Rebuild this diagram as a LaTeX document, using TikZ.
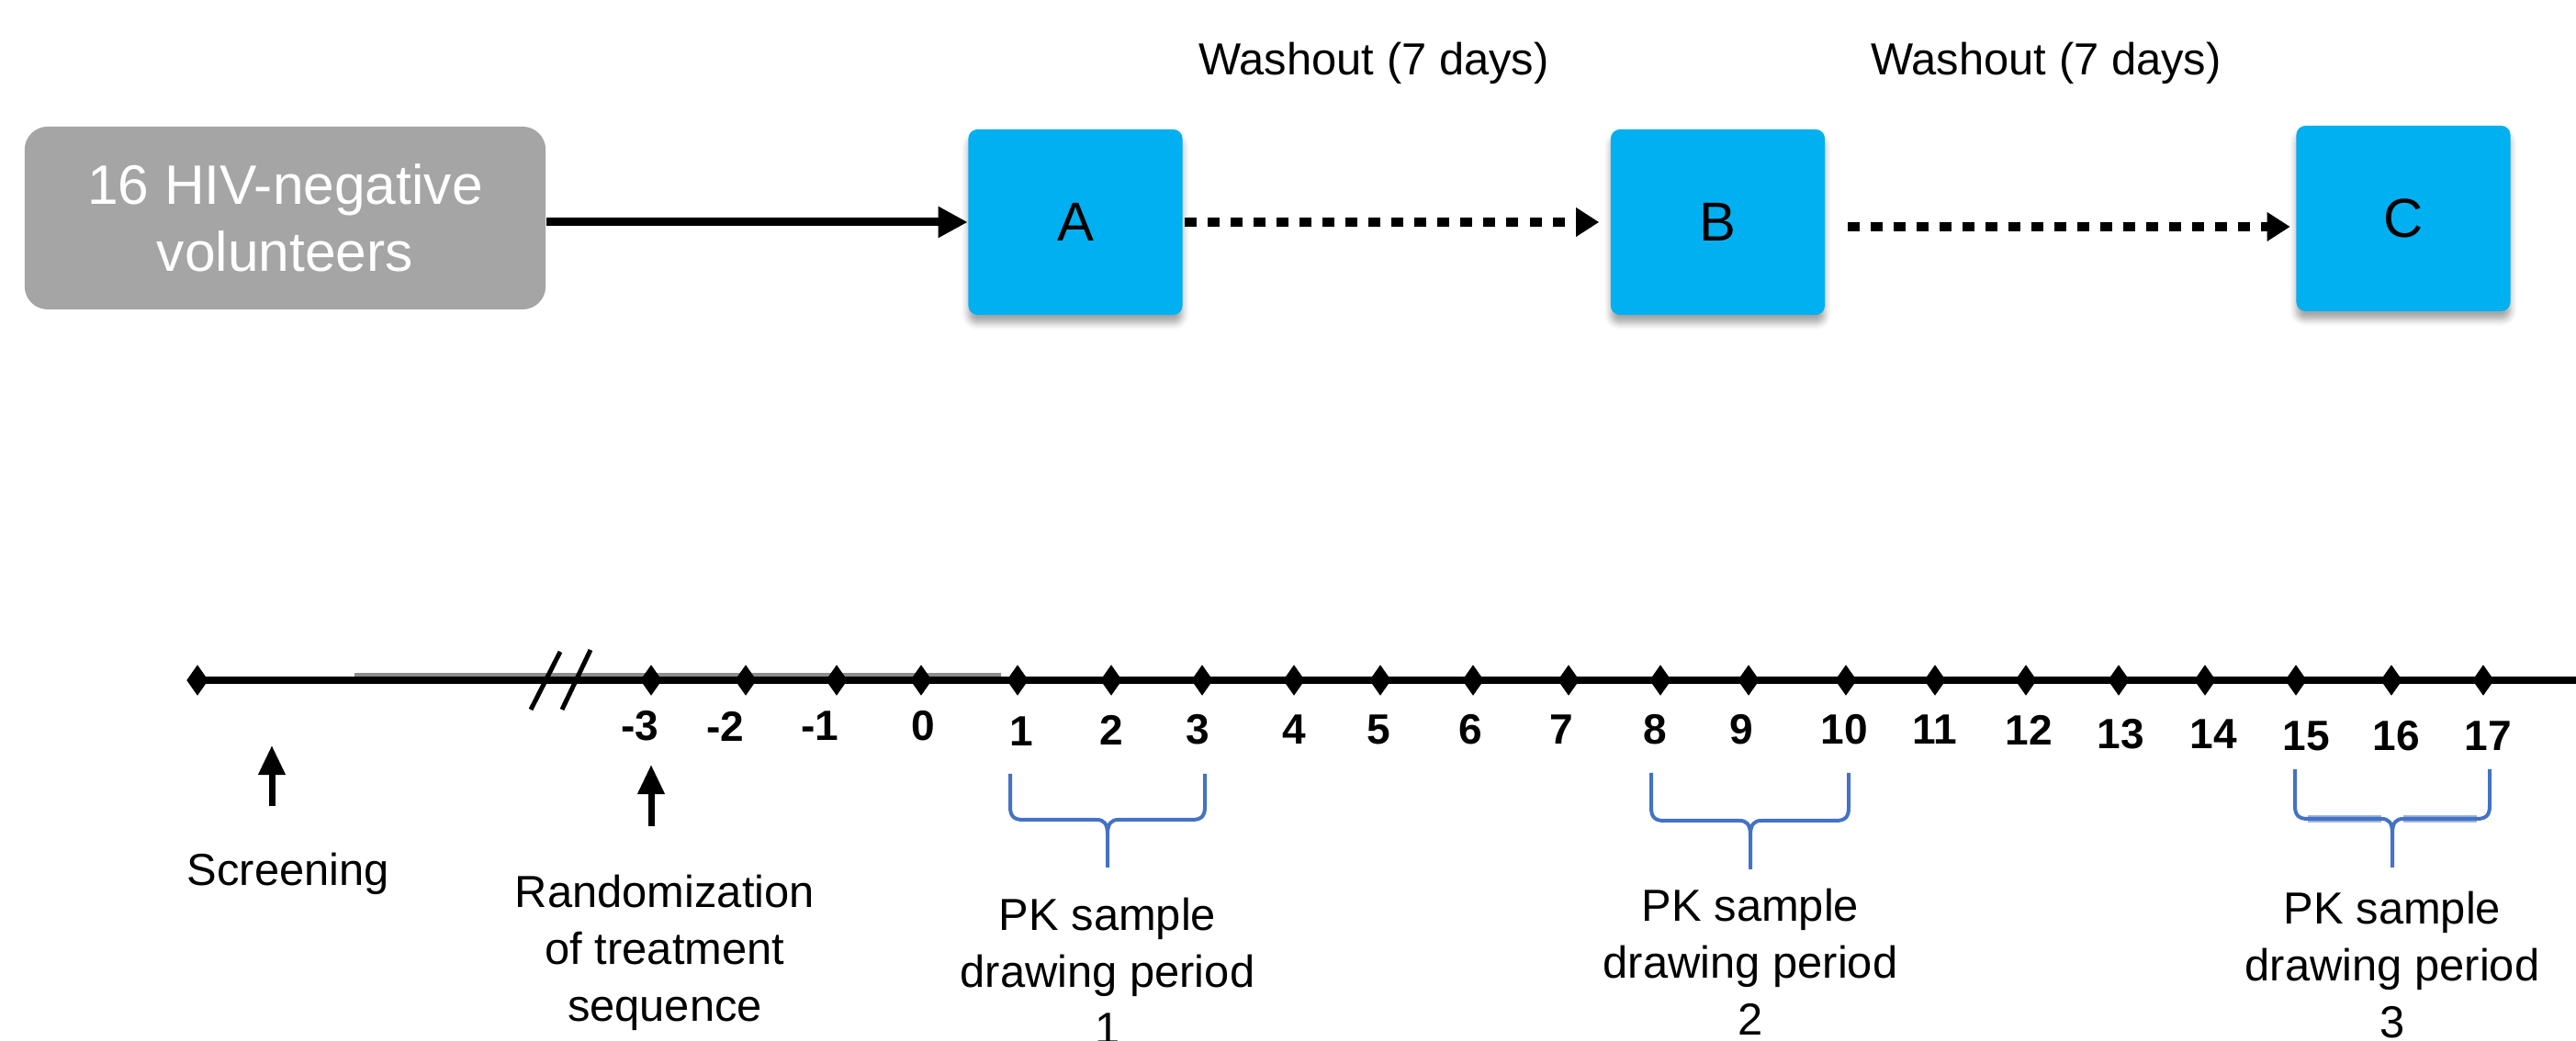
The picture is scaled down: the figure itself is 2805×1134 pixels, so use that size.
\documentclass[tikz,border=0pt]{standalone}
\usepackage{fontspec}
\setmainfont{Liberation Sans}
\usetikzlibrary{arrows.meta,shapes.geometric,shadows.blur,backgrounds}
\definecolor{boxgray}{HTML}{A5A5A5}
\definecolor{armblue}{HTML}{00B0F0}
\definecolor{bracecol}{HTML}{4472C4}
\definecolor{bracefill}{HTML}{9DB4E0}
\definecolor{overlaygray}{HTML}{8C8C8C}

\begin{document}
\begin{tikzpicture}[x=0.01cm,y=-0.01cm,
  cohort/.style={fill=boxgray, rounded corners=0.25cm, text=white, align=center,
    font=\fontsize{17.2}{20.8}\selectfont, inner sep=0pt,
    minimum width=5.67cm, minimum height=1.99cm},
  arm/.style={fill=armblue, rounded corners=0.1cm, inner sep=0pt,
    font=\fontsize{17}{20}\selectfont,
    minimum width=2.33cm, minimum height=2.02cm,
    blur shadow={shadow xshift=0cm, shadow yshift=-0.09cm,
      shadow blur radius=0.07cm, shadow opacity=35}},
  solidarrow/.style={line width=0.09cm, -{Triangle[length=0.32cm,width=0.32cm]}},
  dotarrow/.style={line width=0.1cm, dash pattern=on 0.13cm off 0.12cm,
    -{Triangle[length=0.25cm,width=0.3cm]}},
  lbl/.style={font=\fontsize{13.9}{17.6}\selectfont, align=center, inner sep=0pt},
  num/.style={font=\fontsize{13.1}{15}\selectfont\bfseries, inner sep=0pt},
  tick/.style={diamond, fill=black, inner sep=0pt,
    minimum width=0.24cm, minimum height=0.34cm},
  uparrow/.style={line width=0.07cm, -{Triangle[length=0.32cm,width=0.28cm]}},
  slash/.style={line width=0.05cm},
  brace/.style={draw=bracecol, line width=0.04cm, line join=round},
]
\useasboundingbox (0,0) rectangle (2805,1134);

% ---- treatment sequence ----
\node[cohort] (cohort) at (310.5,237.5) {16 HIV-negative\\volunteers};
\node[arm] (A) at (1171,242) {A};
\node[arm] (B) at (1870.5,242) {B};
\node[arm] (C) at (2617,238) {C};

\node[lbl, anchor=base] (wash1) at (1496,82) {Washout (7 days)};
\node[lbl, anchor=base] (wash2) at (2228,82) {Washout (7 days)};

\draw[solidarrow] (cohort.east |- A.west) -- (A.west);
\draw[dotarrow, shorten <=0.02cm, shorten >=0.12cm] (A.east) -- (B.west);
\draw[dotarrow, shorten <=0.24cm, shorten >=0.06cm]
  ([yshift=-0.05cm]B.east) -- ([yshift=-0.05cm]B.east -| C.west);

% ---- study timeline ----
\node[tick] (scr) at (215,741) {};
\foreach \d/\x in {-3/709,-2/812,-1/911,0/1003,1/1108,2/1210,3/1309,4/1409,
  5/1503,6/1604,7/1708,8/1808,9/1904,10/2010,11/2107,12/2206,13/2307,
  14/2401,15/2500,16/2604,17/2704}
  \node[tick] (d\d) at (\x,741) {};
\coordinate (tlend) at (2805,741);
\coordinate (ovA) at (386,736);
\coordinate (ovB) at (1090,736);
\begin{scope}[on background layer]
  \draw[overlaygray, line width=0.05cm] (ovA) -- (ovB);
  \draw[line width=0.08cm] (scr.center) -- (tlend);
\end{scope}

% axis break
\coordinate (brA1) at (578,773); \coordinate (brA2) at (610,710);
\coordinate (brB1) at (612,773); \coordinate (brB2) at (643,708);
\draw[slash] (brA1) -- (brA2);
\draw[slash] (brB1) -- (brB2);

% day numbers
\foreach \d/\x/\y in {-3/697/791,-2/790/791,-1/893/791,0/1005/791,
  1/1112/797,2/1210/795,3/1304/795,4/1409/795,5/1501/795,6/1601/795,
  7/1700/795,8/1802/795,9/1896/795,10/2008/795,11/2107/795,12/2209/795,
  13/2309/800,14/2410/800,15/2511/802,16/2609/802,17/2709/802}
  \node[num] (n\d) at (\x,\y) {\d};

% screening and randomization markers
\node[lbl, anchor=base] (screening) at (314,965) {Screening};
\coordinate (scrfoot) at (296,878);
\coordinate (scrtip) at (296,812);
\draw[uparrow] (scrfoot) -- (scrtip);

% multi-line labels are anchored at the baseline of their last line
\node[lbl, anchor=base] (rand) at (724,1112) {Randomization\\of treatment\\sequence};
\coordinate (rndfoot) at (709,900);
\coordinate (rndtip) at (709,833);
\draw[uparrow] (rndfoot) -- (rndtip);

% PK sampling braces
\draw[bracefill, line width=0.07cm] (2513,892) -- (2593,892) (2617,892) -- (2697,892);
\foreach \L/\R/\T/\H/\M/\P in {1100/1312/843/893/1206/945,
  1798/2013/842/894/1906/947, 2499/2711/838/892/2605/945}{
  \draw[brace] (\L,\T) -- (\L,\H-14) .. controls (\L,\H-4) and (\L+4,\H) .. (\L+14,\H)
    -- (\M-12,\H) .. controls (\M-4,\H) and (\M,\H+4) .. (\M,\H+16) -- (\M,\P);
  \draw[brace] (\R,\T) -- (\R,\H-14) .. controls (\R,\H-4) and (\R-4,\H) .. (\R-14,\H)
    -- (\M+12,\H) .. controls (\M+4,\H) and (\M,\H+4) .. (\M,\H+16);
}

\node[lbl, anchor=base] (pk1) at (1206,1137) {PK sample\\drawing period\\1};
\node[lbl, anchor=base] (pk2) at (1906,1127) {PK sample\\drawing period\\2};
\node[lbl, anchor=base] (pk3) at (2605,1130) {PK sample\\drawing period\\3};
\end{tikzpicture}
\end{document}
